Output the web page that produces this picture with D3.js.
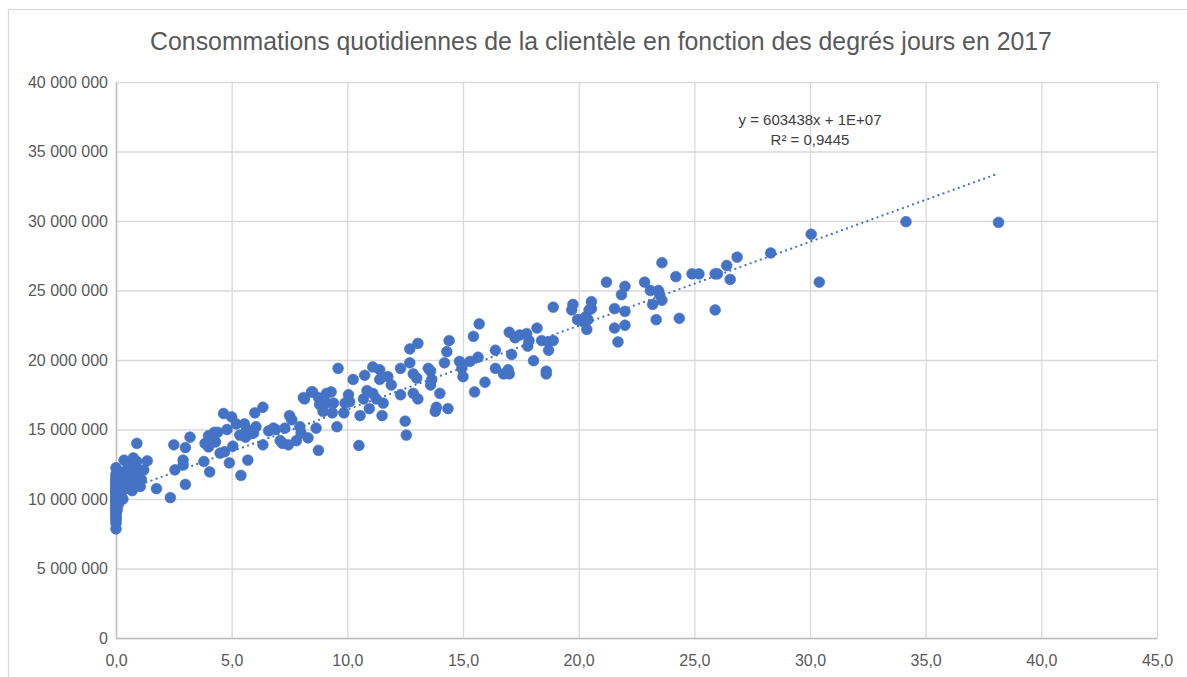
<!DOCTYPE html>
<html lang="fr">
<head>
<meta charset="utf-8">
<title>Consommations quotidiennes 2017</title>
<script src="https://cdn.jsdelivr.net/npm/d3@7"></script>
<style>
  html, body { margin: 0; padding: 0; background: #ffffff; }
  svg { display: block; font-family: "Liberation Sans", Arial, sans-serif; }
</style>
</head>
<body>
<script>
// Degrés jours (x) et consommation quotidienne (y, en millions) pour chaque jour relevé
const degresJours = [
  0, 0, 0, 0, 0, 0, 0, 0, 0, 0, 0, 0, 0, 0, 0, 0, 0, 0, 0, 0,
  0, 0, 0, 0, 0, 0, 0, 0, 0, 0, 0, 0, 0, 0, 0, 0, 0,
  0.05, 0.05, 0.05, 0.05, 0.05, 0.1, 0.1, 0.1, 0.1, 0.1, 0.15, 0.15, 0.15, 0.2, 0.2, 0.25, 0.25,
  0.3, 0.35, 0.4, 0.45, 0.5, 0.5, 0.5, 0.55, 0.6, 0.65, 0.7, 0.75, 0.75, 0.8, 0.85, 0.9, 0.9, 0.95, 0.95,
  1.0, 1.05, 1.1, 1.2, 1.35,
  1.75, 2.35, 2.5, 2.55, 2.9, 2.9, 3.0, 3.0, 3.2, 3.8, 3.85, 4.0, 4.0, 4.05, 4.25, 4.3, 4.4, 4.5, 4.65, 4.7,
  4.8, 4.9, 5.0, 5.05, 5.2, 5.35, 5.4, 5.55, 5.6, 5.65, 5.7, 5.85, 5.95, 6.0, 6.05, 6.35, 6.35, 6.6, 6.8, 6.9,
  7.1, 7.2, 7.3, 7.45, 7.5, 7.6, 7.8, 7.95, 8.0, 8.1, 8.15, 8.3, 8.45, 8.5, 8.65, 8.75, 8.75, 8.8, 8.95, 9.1,
  9.1, 9.3, 9.35, 9.4, 9.55, 9.6, 9.85, 9.9, 10.05, 10.1, 10.25, 10.5, 10.55, 10.7, 10.75, 10.85, 10.95, 11.1, 11.1, 11.25,
  11.4, 11.4, 11.5, 11.55, 11.75, 11.9, 12.3, 12.3, 12.5, 12.55, 12.7, 12.7, 12.85, 12.85, 13.0, 13.05, 13.05, 13.5, 13.6, 13.65,
  13.6, 13.8, 13.85, 14.0, 14.2, 14.3, 14.35, 14.4, 14.85, 14.95, 15.0, 15.3, 15.45, 15.5, 15.65, 15.7, 15.95, 16.4, 16.4, 16.75,
  16.95, 17.0, 17.0, 17.1, 17.25, 17.45, 17.75, 17.8, 17.85, 18.05, 18.2, 18.4, 18.6, 18.6, 18.7, 18.7, 18.9, 18.9, 19.7, 19.75,
  19.95, 20.05, 20.15, 20.3, 20.35, 20.4, 20.45, 20.55, 20.55, 21.2, 21.55, 21.55, 21.7, 21.85, 22.0, 22.0, 22.0, 22.85, 23.1, 23.2,
  23.35, 23.45, 23.5, 23.6, 23.6, 24.2, 24.35, 24.9, 25.2, 25.9, 25.9, 26.0, 26.4, 26.55, 26.85, 28.3, 30.05, 30.4, 34.15, 38.15
];
const consommationsM = [
  7.85, 8.25, 8.45, 8.6, 8.75, 8.85, 8.95, 9.1, 9.15, 9.3, 9.4, 9.45, 9.6, 9.7, 9.75, 9.85, 9.95, 10.0, 10.1, 10.2,
  10.25, 10.35, 10.45, 10.5, 10.6, 10.7, 10.75, 10.85, 10.95, 11.05, 11.1, 11.2, 11.3, 11.45, 11.6, 11.8, 12.25,
  9.2, 9.9, 10.4, 10.9, 11.5, 9.6, 10.15, 10.65, 11.15, 12.0, 10.3, 10.8, 11.35, 10.05, 11.7, 10.5, 11.0,
  10.0, 12.8, 11.6, 11.2, 12.2, 10.8, 11.5, 11.9, 12.6, 11.4, 10.6, 12.95, 11.8, 12.3, 11.1, 12.7, 14.0, 11.6, 11.7,
  12.0, 10.9, 11.4, 12.1, 12.75,
  10.75, 10.1, 13.9, 12.1, 12.8, 12.45, 13.7, 11.05, 14.45, 12.7, 14.0, 14.55, 13.75, 11.95, 14.8, 14.1, 14.8, 13.3, 16.15, 13.4,
  15.0, 12.6, 15.9, 13.8, 15.4, 14.6, 11.7, 15.4, 14.45, 15.0, 12.8, 14.7, 14.75, 16.2, 15.2, 16.6, 13.9, 14.9, 15.1, 15.0,
  14.2, 14.0, 15.1, 13.9, 16.0, 15.7, 14.2, 15.2, 14.75, 17.3, 17.2, 14.4, 17.7, 17.7, 15.1, 13.5, 17.3, 16.8, 16.3, 17.6,
  16.9, 17.7, 16.2, 16.9, 15.2, 19.4, 16.2, 16.9, 17.5, 17.0, 18.6, 13.85, 16.0, 17.2, 18.9, 17.8, 16.5, 19.5, 17.6, 17.2,
  19.3, 18.6, 16.0, 16.9, 18.8, 18.2, 17.5, 19.4, 15.6, 14.6, 19.8, 20.8, 19.0, 17.6, 18.7, 21.2, 17.2, 19.4, 19.2, 18.6,
  18.2, 16.3, 16.6, 17.6, 19.8, 20.6, 16.5, 21.4, 19.9, 19.4, 18.8, 19.9, 21.7, 17.7, 20.2, 22.6, 18.4, 20.7, 19.4, 19.0,
  19.3, 19.0, 22.0, 20.4, 21.6, 21.8, 21.9, 21.0, 21.4, 19.95, 22.3, 21.4, 19.2, 19.0, 20.7, 21.3, 21.4, 23.8, 23.6, 24.0,
  22.9, 22.9, 22.8, 23.1, 22.2, 22.9, 23.6, 24.2, 23.7, 25.6, 23.7, 22.3, 21.3, 24.7, 25.3, 23.5, 22.5, 25.6, 25.0, 24.0,
  22.9, 25.0, 24.7, 24.3, 27.0, 26.0, 23.0, 26.2, 26.2, 26.2, 23.6, 26.2, 26.8, 25.8, 27.4, 27.7, 29.05, 25.6, 29.95, 29.9
];

// Courbe de tendance linéaire et coefficient de détermination
const penteTendance = 603438;
const ordonneeOrigine = 1.04e7;
const rCarre = 0.9445;

// Graduations des axes
const ticksX = [0, 5, 10, 15, 20, 25, 30, 35, 40, 45];
const ticksY = [0, 5e6, 10e6, 15e6, 20e6, 25e6, 30e6, 35e6, 40e6];

const titre = "Consommations quotidiennes de la clientèle en fonction des degrés jours en 2017";

const points = degresJours.map((x, i) => ({ x, y: consommationsM[i] * 1e6 }));

const W = 1187, H = 677;
const plot = { left: 116, right: 1157, top: 82, bottom: 638 };
const bleu = "#4472C4";
const gris = "#595959";

const fr = d3.formatLocale({ decimal: ",", thousands: "\u00a0", grouping: [3], currency: ["", " €"] });
const fmtY = fr.format(",.0f");
const fmtX = fr.format(".1f");

const svg = d3.select("body").append("svg").attr("width", W).attr("height", H);
svg.append("rect").attr("width", W).attr("height", H).attr("fill", "#fff");

// Cadre du graphique
svg.append("rect")
  .attr("x", 8.5).attr("y", 9.5).attr("width", W + 20).attr("height", H + 20)
  .attr("fill", "none").attr("stroke", "#d9d9d9").attr("stroke-width", 1.2);

const x = d3.scaleLinear().domain([0, 45]).range([plot.left, plot.right]);
const y = d3.scaleLinear().domain([0, 40e6]).range([plot.bottom, plot.top]);

// Quadrillage
const grid = svg.append("g");
grid.append("g")
  .attr("transform", `translate(0,${plot.bottom})`)
  .call(d3.axisBottom(x).tickValues(ticksX).tickSize(-(plot.bottom - plot.top)).tickFormat(""))
  .call(g => g.select(".domain").remove())
  .call(g => g.selectAll("line").attr("stroke", "#d9d9d9").attr("stroke-width", 1.3));
grid.append("g")
  .attr("transform", `translate(${plot.left},0)`)
  .call(d3.axisLeft(y).tickValues(ticksY).tickSize(-(plot.right - plot.left)).tickFormat(""))
  .call(g => g.select(".domain").remove())
  .call(g => g.selectAll("line").attr("stroke", "#d9d9d9").attr("stroke-width", 1.3));

// Axes
const axeX = svg.append("g")
  .attr("transform", `translate(0,${plot.bottom})`)
  .call(d3.axisBottom(x).tickValues(ticksX).tickSize(0).tickPadding(17).tickFormat(fmtX));
const axeY = svg.append("g")
  .attr("transform", `translate(${plot.left},0)`)
  .call(d3.axisLeft(y).tickValues(ticksY).tickSize(0).tickPadding(8).tickFormat(fmtY));
[axeX, axeY].forEach(a => {
  a.select(".domain").attr("stroke", "#bfbfbf").attr("stroke-width", 1.5);
  a.selectAll("text").attr("fill", gris).style("font-size", "16px")
    .style("font-family", "'Liberation Sans', Arial, sans-serif");
});

// Points
svg.append("g")
  .selectAll("circle")
  .data(points)
  .join("circle")
  .attr("cx", d => x(d.x))
  .attr("cy", d => y(d.y))
  .attr("r", 5.4)
  .attr("fill", bleu)
  .attr("stroke", bleu)
  .attr("stroke-width", 0.6);

// Tendance linéaire pointillée
const xMin = d3.min(degresJours), xMax = d3.max(degresJours);
svg.append("path")
  .datum([xMin, xMax])
  .attr("d", d3.line().x(d => x(d)).y(d => y(penteTendance * d + ordonneeOrigine)))
  .attr("fill", "none")
  .attr("stroke", bleu)
  .attr("stroke-width", 2.3)
  .attr("stroke-linecap", "round")
  .attr("stroke-dasharray", "0 5.4");

// Équation et R²
function notationExcel(v) {
  const e = Math.floor(Math.log10(Math.abs(v)));
  const m = Math.round(v / Math.pow(10, e));
  return `${m}E+${String(e).padStart(2, "0")}`;
}
const eq = svg.append("g").attr("fill", "#404040")
  .style("font-size", "15px").attr("text-anchor", "middle");
eq.append("text").attr("x", 810).attr("y", 125)
  .text(`y = ${penteTendance}x + ${notationExcel(ordonneeOrigine)}`);
eq.append("text").attr("x", 810).attr("y", 145)
  .text(`R² = ${fr.format(".4f")(rCarre)}`);

// Titre
const t = svg.append("text")
  .attr("x", 601).attr("y", 50)
  .attr("text-anchor", "middle")
  .attr("fill", gris)
  .style("font-size", "22px")
  .text(titre);
const largeur = t.node().getComputedTextLength();
t.style("font-size", (22 * 902 / largeur).toFixed(2) + "px");
</script>
</body>
</html>
